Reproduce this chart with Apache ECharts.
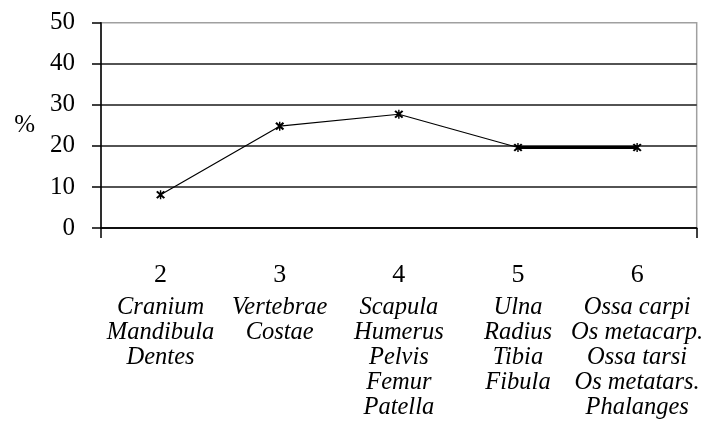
<!DOCTYPE html>
<html>
<head>
<meta charset="utf-8">
<script src="https://cdn.jsdelivr.net/npm/echarts@6/dist/echarts.min.js"></script>
<style>html,body{margin:0;padding:0;background:#fff;}#c{width:706px;height:423px;}</style>
</head>
<body>
<div id="c"></div>
<script>
var catNumbers = ['2', '3', '4', '5', '6'];
var catNames = [
  ['Cranium', 'Mandibula', 'Dentes'],
  ['Vertebrae', 'Costae'],
  ['Scapula', 'Humerus', 'Pelvis', 'Femur', 'Patella'],
  ['Ulna', 'Radius', 'Tibia', 'Fibula'],
  ['Ossa carpi', 'Os metacarp.', 'Ossa tarsi', 'Os metatars.', 'Phalanges']
];
var values = [8.1, 24.8, 27.7, 19.6, 19.6];
var yTicks = [0, 10, 20, 30, 40, 50];

var boldFrom = 3; // thick segment between categories 5 and 6
var thickSeg = values.map(function (v, i) { return i >= boldFrom ? v : null; });

var star = 'path://M4.3,0 L5.7,0 L5.7,10 L4.3,10 Z M0.5,2 L2,0.5 L9.5,8 L8,9.5 Z M8,0.5 L9.5,2 L2,9.5 L0.5,8 Z';
var font = '"Liberation Serif", "Times New Roman", serif';

var chart = echarts.init(document.getElementById('c'));
chart.setOption({
  animation: false,
  backgroundColor: '#fff',
  textStyle: { fontFamily: font, color: '#000' },
  grid: {
    left: 101, right: 8, top: 22.7, bottom: 195,
    show: true, borderColor: '#a0a0a0', borderWidth: 1.5, backgroundColor: 'transparent'
  },
  xAxis: {
    type: 'category',
    data: catNumbers,
    boundaryGap: true,
    axisLine: { lineStyle: { color: '#000', width: 1.5 } },
    axisTick: { show: true, length: 10, lineStyle: { color: '#000', width: 1.5 },
      interval: function (i) { return i === 0; } },
    axisLabel: {
      margin: 26.5,
      interval: 0,
      fontFamily: font,
      color: '#000',
      formatter: function (val, idx) {
        var s = '{n|' + val + '}';
        catNames[idx].forEach(function (t) { s += '\n{t|' + t + '}'; });
        return s;
      },
      rich: {
        n: { fontSize: 26, lineHeight: 41, fontFamily: font, color: '#000' },
        t: { fontSize: 24.5, lineHeight: 25, fontStyle: 'italic', fontFamily: font, color: '#000' }
      }
    },
    splitLine: { show: false }
  },
  yAxis: {
    type: 'value',
    min: yTicks[0], max: yTicks[yTicks.length - 1], interval: 10,
    name: '%',
    nameLocation: 'middle',
    nameRotate: 0,
    nameGap: 66,
    nameTextStyle: { fontSize: 25, fontFamily: font, color: '#000' },
    axisLine: { show: true, lineStyle: { color: '#000', width: 1.5 } },
    axisTick: { show: true, length: 9, lineStyle: { color: '#000', width: 1.5 } },
    axisLabel: { fontSize: 25, margin: 26, color: '#000', fontFamily: font },
    splitLine: { show: true, showMaxLine: false, lineStyle: { color: '#1a1a1a', width: 1.6 } }
  },
  series: [
    {
      type: 'line',
      data: values,
      symbol: 'none',
      lineStyle: { color: '#000', width: 1.2 },
      z: 3
    },
    {
      type: 'line',
      data: thickSeg,
      symbol: 'none',
      lineStyle: { color: '#000', width: 2.8 },
      z: 4
    },
    {
      type: 'line',
      data: values,
      symbol: star,
      symbolSize: 9,
      showSymbol: true,
      itemStyle: { color: '#000' },
      lineStyle: { width: 0, opacity: 0 },
      z: 5
    }
  ]
});
</script>
</body>
</html>
